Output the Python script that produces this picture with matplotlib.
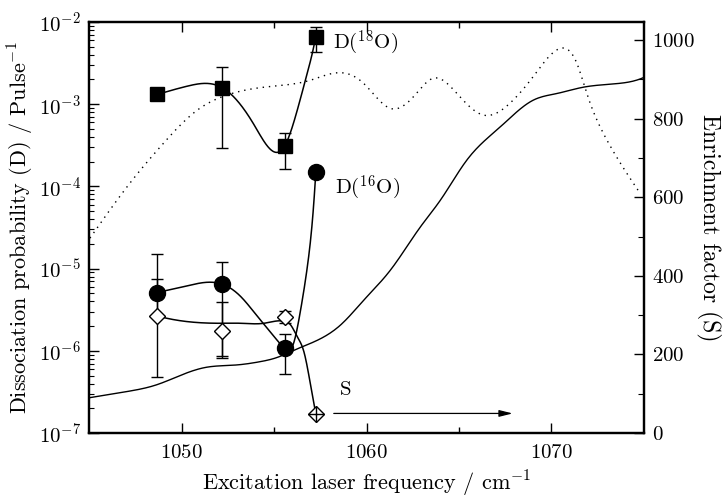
import numpy as np
import matplotlib
matplotlib.use("Agg")
import matplotlib.pyplot as plt
from matplotlib.ticker import LogLocator, MultipleLocator, FixedLocator, NullFormatter, LogFormatterSciNotation

plt.rcParams['font.family'] = ['cmr10', 'DejaVu Serif']
plt.rcParams['mathtext.fontset'] = 'cm'
plt.rcParams['axes.unicode_minus'] = False
plt.rcParams['axes.formatter.use_mathtext'] = True

# ---------------- data ----------------
freq_pts = [1048.7, 1052.21, 1055.57, 1057.26]

# D(18O) squares
d18_y = [1.32e-3, 1.59e-3, 3.10e-4, 6.63e-3]
d18_hi = [1.32e-3, 2.86e-3, 4.50e-4, 8.77e-3]
d18_lo = [1.32e-3, 2.96e-4, 1.61e-4, 4.28e-3]

# D(16O) circles
d16_y = [5.09e-6, 6.44e-6, 1.07e-6, 1.48e-4]
d16_hi = [1.51e-5, 1.19e-5, 1.59e-6, 1.48e-4]
d16_lo = [4.76e-7, 8.10e-7, 5.22e-7, 1.48e-4]

# open diamonds
dia_y = [2.65e-6, 1.76e-6, 2.60e-6, 1.70e-7]
dia_hi = [7.41e-6, 3.96e-6, 3.07e-6, 1.70e-7]
dia_lo = [2.65e-6, 8.65e-7, 2.16e-6, 1.70e-7]

# smooth curves, log10 values
d18_curve_x = [1048.7, 1050.32, 1052.21, 1053.92, 1055.57, 1056.26, 1056.80, 1057.07, 1057.26]
d18_curve_lg = [-2.88, -2.78, -2.80, -3.25, -3.51, -3.07, -2.62, -2.38, -2.18]

d16_curve_x = [1048.7, 1050.3, 1052.21, 1053.2, 1054.1, 1054.91, 1055.57, 1055.99, 1056.44, 1056.80, 1057.16, 1057.26]
d16_curve_lg = [-5.29, -5.21, -5.19, -5.34, -5.58, -5.80, -5.97, -5.95, -5.50, -4.98, -4.17, -3.83]

dia_curve_x = [1048.7, 1049.06, 1052.21, 1053.2, 1054.46, 1055.57, 1055.9, 1056.26, 1056.62, 1056.94, 1057.26]
dia_curve_lg = [-5.577, -5.597, -5.665, -5.665, -5.665, -5.64, -5.686, -5.83, -6.015, -6.37, -6.77]

# Enrichment factor S (right axis)
s_x = [1045.05, 1046.99, 1048.61, 1050.23, 1051.31, 1052.93, 1054.19, 1055.27, 1055.90, 1057.16,
       1058.60, 1059.85, 1061.30, 1062.92, 1064.0, 1065.43, 1067.23, 1069.01, 1070.29, 1071.71,
       1073.71, 1074.79, 1075.0]
s_y = [90, 105, 122, 152, 167, 173, 181, 194, 207, 232,
       275, 338, 415, 525, 593, 695, 779, 847, 864, 880,
       890, 901, 905]

# dotted spectrum (right axis units)
dot_x = [1045.05, 1047.26, 1048.94, 1050.86, 1052.21, 1054.44, 1056.98, 1058.60, 1059.84, 1061.30,
         1062.54, 1063.62, 1064.89, 1066.33, 1067.77, 1069.01, 1070.29, 1071.37, 1071.91, 1072.99, 1074.79]
dot_y = [496, 639, 733, 822, 856, 880, 898, 917, 890, 826,
         856, 903, 864, 809, 840, 907, 975, 941, 864, 746, 610]

xlim = (1045, 1075)
ylim_left = (1e-7, 1e-2)
ylim_right = (0, 1046)

arrow_from = (1058.23, 1.73e-7)
arrow_to = (1067.9, 1.73e-7)


def nat_spline(x, y, n=400):
    x = np.asarray(x, float)
    y = np.asarray(y, float)
    m = len(x)
    h = np.diff(x)
    A = np.zeros((m, m))
    b = np.zeros(m)
    A[0, 0] = 1
    A[-1, -1] = 1
    for i in range(1, m - 1):
        A[i, i - 1] = h[i - 1]
        A[i, i] = 2 * (h[i - 1] + h[i])
        A[i, i + 1] = h[i]
        b[i] = 6 * ((y[i + 1] - y[i]) / h[i] - (y[i] - y[i - 1]) / h[i - 1])
    M = np.linalg.solve(A, b)
    xs = np.linspace(x[0], x[-1], n)
    idx = np.clip(np.searchsorted(x, xs) - 1, 0, m - 2)
    x0, x1 = x[idx], x[idx + 1]
    hh = x1 - x0
    t0 = x1 - xs
    t1 = xs - x0
    ys = (M[idx] * t0 ** 3 + M[idx + 1] * t1 ** 3) / (6 * hh) \
        + (y[idx] / hh - M[idx] * hh / 6) * t0 + (y[idx + 1] / hh - M[idx + 1] * hh / 6) * t1
    return xs, ys


fig = plt.figure(figsize=(7.28, 5.0), dpi=100)
ax = fig.add_axes([0.1223, 0.134, 0.7623, 0.822])
ax2 = ax.twinx()
ax.set_zorder(ax2.get_zorder() + 1)
ax.patch.set_visible(False)

# right-axis curves
sx, sy = nat_spline(s_x, s_y)
ax2.plot(sx, sy, color='black', lw=1.0)
dx, dy = nat_spline(dot_x, dot_y)
ax2.plot(dx, dy, color='black', lw=1.0, linestyle=(0, (1, 3.5)))

# left-axis curves
for cx, cy in [(d18_curve_x, d18_curve_lg), (d16_curve_x, d16_curve_lg), (dia_curve_x, dia_curve_lg)]:
    xs, ys = nat_spline(cx, cy)
    ax.plot(xs, 10 ** ys, color='black', lw=1.1)

def err(y, hi, lo):
    y = np.array(y); hi = np.array(hi); lo = np.array(lo)
    return [y - lo, hi - y]

ekw = dict(fmt='none', ecolor='black', elinewidth=1.0, capsize=4.5, capthick=1.0)
ax.errorbar(freq_pts, d18_y, yerr=err(d18_y, d18_hi, d18_lo), **ekw)
ax.errorbar(freq_pts, d16_y, yerr=err(d16_y, d16_hi, d16_lo), **ekw)
ax.errorbar(freq_pts, dia_y, yerr=err(dia_y, dia_hi, dia_lo), **ekw)

ax.plot(freq_pts, d18_y, ls='none', marker='s', ms=10.5, mfc='black', mec='black', zorder=5)
ax.plot(freq_pts, d16_y, ls='none', marker='o', ms=11.5, mfc='black', mec='black', zorder=5)
ax.plot(freq_pts, dia_y, ls='none', marker='D', ms=8, mfc='white', mec='black', mew=1.0, zorder=5)
ax.plot(freq_pts[-1:], dia_y[-1:], ls='none', marker='+', ms=11, mec='black', mew=1.0, zorder=6)

# annotations
ax.text(1058.2, 5.5e-3, r'D($^{18}$O)', fontsize=15, va='center', ha='left')
ax.text(1058.3, 9.5e-5, r'D($^{16}$O)', fontsize=15, va='center', ha='left')
ax.text(1058.55, 3.3e-7, 'S', fontsize=15, va='center', ha='left')
ax.annotate('', xy=arrow_to, xytext=arrow_from,
            arrowprops=dict(arrowstyle='-|>,head_length=0.8,head_width=0.2', color='black', lw=0.9,
                            shrinkA=0, shrinkB=0))

# axes setup
ax.set_xlim(*xlim)
ax.set_yscale('log')
ax.set_ylim(*ylim_left)
ax2.set_ylim(*ylim_right)

ax.xaxis.set_major_locator(FixedLocator([1050, 1060, 1070]))
ax.xaxis.set_minor_locator(FixedLocator([1055, 1065]))
ax.yaxis.set_major_locator(LogLocator(base=10, numticks=10))
ax.yaxis.set_minor_locator(LogLocator(base=10, subs=np.arange(2, 10), numticks=20))
ax.yaxis.set_minor_formatter(NullFormatter())
ax.yaxis.set_major_formatter(LogFormatterSciNotation())
ax2.yaxis.set_major_locator(MultipleLocator(200))
ax2.yaxis.set_minor_locator(MultipleLocator(100))

ax.tick_params(axis='x', which='major', direction='in', length=7, width=1.0, top=True, labelsize=15, pad=8)
ax.tick_params(axis='x', which='minor', direction='in', length=4.5, width=1.0, top=True)
ax.tick_params(axis='y', which='major', direction='in', length=7, width=1.0, labelsize=15, pad=6, right=False)
ax.tick_params(axis='y', which='minor', direction='in', length=3.5, width=0.8, right=False)
ax2.tick_params(axis='y', which='major', direction='in', length=7, width=1.0, labelsize=15, pad=6)
ax2.tick_params(axis='y', which='minor', direction='in', length=4, width=0.8)

for a in (ax, ax2):
    for sp in a.spines.values():
        sp.set_linewidth(1.6)

ax.set_xlabel(r'Excitation laser frequency / cm$^{-1}$', fontsize=16, labelpad=5)
ax.set_ylabel(r'Dissociation probability (D) / Pulse$^{-1}$', fontsize=16, labelpad=2)
ax2.set_ylabel('Enrichment factor (S)', fontsize=17, rotation=-90, labelpad=19)

fig.savefig('out.png', dpi=100)
